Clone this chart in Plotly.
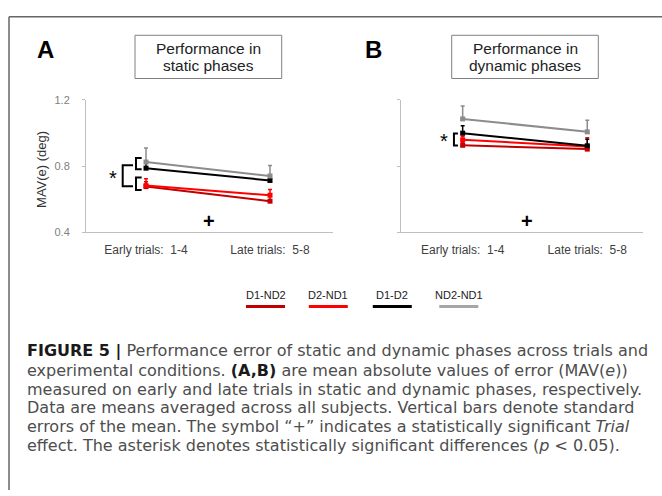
import plotly.graph_objects as go

W, H = 662, 496

# ---------------- data ----------------
categories = ["Early trials:  1-4", "Late trials:  5-8"]
series_names = ["D1-ND2", "D2-ND1", "D1-D2", "ND2-ND1"]
series_colors = ["#c00000", "#ff0000", "#000000", "#8c8c8c"]
legend_colors = ["#c00000", "#ff0000", "#000000", "#a6a6a6"]

# Panel A: static phases (MAV(e), deg)
static_mean = {
    "D1-ND2": [0.676, 0.588],
    "D2-ND1": [0.682, 0.624],
    "D1-D2": [0.787, 0.713],
    "ND2-ND1": [0.824, 0.740],
}
static_se = {
    "D1-ND2": [0.030, 0.030],
    "D2-ND1": [0.042, 0.035],
    "D1-D2": [0.030, 0.030],
    "ND2-ND1": [0.085, 0.063],
}
# Panel B: dynamic phases
dynamic_mean = {
    "D1-ND2": [0.925, 0.902],
    "D2-ND1": [0.958, 0.918],
    "D1-D2": [0.998, 0.922],
    "ND2-ND1": [1.084, 1.006],
}
dynamic_se = {
    "D1-ND2": [0.020, 0.020],
    "D2-ND1": [0.022, 0.052],
    "D1-D2": [0.045, 0.040],
    "ND2-ND1": [0.078, 0.070],
}
y_ticks = [0.4, 0.8, 1.2]
y_ticktext = ["0.4", "0.8", "1.2"]

panel_titles = [["Performance in", "static phases"], ["Performance in", "dynamic phases"]]
caption_lines = [
    "<span style='color:#1a1a1a'><b>FIGURE 5 |</b></span> Performance error of static and dynamic phases across trials and",
    "experimental conditions. <span style='color:#1a1a1a'><b>(A,B)</b></span> are mean absolute values of error (MAV(<i>e</i>))",
    "measured on early and late trials in static and dynamic phases, respectively.",
    "Data are means averaged across all subjects. Vertical bars denote standard",
    "errors of the mean. The symbol \u201c+\u201d indicates a statistically significant <i>Trial</i>",
    "effect. The asterisk denotes statistically significant differences (<i>p</i> &lt; 0.05).",
]


def px(x):
    return x / W


def py(y):
    return 1 - y / H


FONT = "Liberation Sans, Arial, sans-serif"
CAP_FONT = "DejaVu Sans, Liberation Sans, sans-serif"
xpos = [0, 1]

fig = go.Figure()
for (means, ses, xa, ya) in [(static_mean, static_se, "x", "y"), (dynamic_mean, dynamic_se, "x2", "y2")]:
    for name, col in zip(series_names, series_colors):
        fig.add_trace(go.Scatter(
            x=xpos, y=means[name], mode="lines+markers", name=name,
            xaxis=xa, yaxis=ya, showlegend=False,
            line=dict(color=col, width=2),
            marker=dict(symbol="square", size=5, color=col),
            error_y=dict(type="data", symmetric=False, array=ses[name],
                         arrayminus=[0, 0], color=col, thickness=1.5, width=2),
            cliponaxis=False,
        ))

axis_col = "#bfbfbf"
common_x = dict(showgrid=False, zeroline=False, showline=True, linecolor=axis_col, linewidth=1,
                tickmode="array", tickvals=xpos, ticktext=categories,
                ticks="outside", ticklen=6, tickcolor="rgba(0,0,0,0)",
                tickfont=dict(family=FONT, size=12, color="#404040"), fixedrange=True)
common_y = dict(showgrid=False, zeroline=False, showline=True, linecolor=axis_col, linewidth=1,
                range=[0.4, 1.2], tickmode="array", tickvals=y_ticks, ticktext=y_ticktext,
                ticks="outside", ticklen=3, tickcolor=axis_col,
                tickfont=dict(family=FONT, size=11, color="#808080"), fixedrange=True)

fig.update_layout(
    width=W, height=H, margin=dict(l=0, r=0, t=0, b=0),
    paper_bgcolor="white", plot_bgcolor="white", showlegend=False,
    xaxis=dict(common_x, domain=[px(86), px(333)], range=[-0.484, 1.508], anchor="y"),
    yaxis=dict(common_y, domain=[py(232), py(96)], anchor="x", ticklabelstandoff=10),
    xaxis2=dict(common_x, domain=[px(401), px(642.7)], range=[-0.495, 1.445], anchor="y2"),
    yaxis2=dict(common_y, domain=[py(232), py(96)], anchor="x2", showticklabels=False),
)

shapes = []
annotations = []

# outer frame (top and left)
shapes.append(dict(type="line", xref="paper", yref="paper", x0=px(9), x1=1.0, y0=py(11), y1=py(11),
                   line=dict(color="#666666", width=1.5)))
shapes.append(dict(type="line", xref="paper", yref="paper", x0=px(9), x1=px(9), y0=py(11), y1=0,
                   line=dict(color="#666666", width=1.5)))

# panel letters
for letter, x in [("A", 45.5), ("B", 373)]:
    annotations.append(dict(text="<b>%s</b>" % letter, xref="paper", yref="paper", x=px(x), y=py(44.5),
                            showarrow=False, xanchor="center", yanchor="middle",
                            font=dict(family=FONT, size=24, color="black")))

# title boxes
for (x0, x1), lines in zip([(135, 281.7), (451.7, 598.3)], panel_titles):
    shapes.append(dict(type="rect", xref="paper", yref="paper", x0=px(x0), x1=px(x1), y0=py(74.3), y1=py(30),
                       line=dict(color="#808080", width=1), fillcolor="rgba(0,0,0,0)"))
    cx = (x0 + x1) / 2
    for t, yy in zip(lines, [44, 61]):
        annotations.append(dict(text=t, xref="paper", yref="paper", x=px(cx), y=py(yy),
                                showarrow=False, xanchor="center", yanchor="middle", borderpad=0,
                                font=dict(family=FONT, size=15.5, color="#222222")))

# y-axis title
annotations.append(dict(text="MAV(e) (deg)", xref="paper", yref="paper", x=px(42), y=py(168),
                        textangle=-90, showarrow=False, xanchor="center", yanchor="middle",
                        font=dict(family=FONT, size=13, color="#333333")))


def bracket(xa, ya, xv, xarm, y0, y1):
    return dict(type="path", xref=xa, yref=ya,
                path="M %f,%f L %f,%f L %f,%f L %f,%f" % (xarm, y1, xv, y1, xv, y0, xarm, y0),
                line=dict(color="black", width=2))


# significance brackets panel A
shapes.append(bracket("x", "y", -0.188, -0.105, 0.678, 0.804))
shapes.append(bracket("x", "y", -0.081, -0.035, 0.780, 0.849))
shapes.append(bracket("x", "y", -0.081, -0.035, 0.656, 0.731))
# panel B
shapes.append(bracket("x2", "y2", -0.070, -0.038, 0.924, 0.996))

annotations.append(dict(text="*", xref="x", yref="y", x=-0.266, y=0.728, showarrow=False,
                        font=dict(family=FONT, size=20, color="black")))
annotations.append(dict(text="*", xref="x2", yref="y2", x=-0.148, y=0.948, showarrow=False,
                        font=dict(family=FONT, size=20, color="black")))
annotations.append(dict(text="<b>+</b>", xref="x", yref="y", x=0.51, y=0.466, showarrow=False,
                        font=dict(family=FONT, size=20, color="black")))
annotations.append(dict(text="<b>+</b>", xref="x2", yref="y2", x=0.514, y=0.466, showarrow=False,
                        font=dict(family=FONT, size=20, color="black")))

# legend (text above thick line)
leg_centers = [265.5, 328.3, 392.3, 458.8]
for name, col, cx in zip(series_names, legend_colors, leg_centers):
    annotations.append(dict(text=name, xref="paper", yref="paper", x=px(cx), y=py(296),
                            showarrow=False, xanchor="center", yanchor="middle",
                            font=dict(family=FONT, size=11, color="#222222")))
    shapes.append(dict(type="line", xref="paper", yref="paper", x0=px(cx - 19.5), x1=px(cx + 19.5),
                       y0=py(308), y1=py(308), line=dict(color=col, width=3)))

# caption
cap_y = [354, 373.3, 392.5, 411.7, 430.9, 450.1]
for t, yy in zip(caption_lines, cap_y):
    annotations.append(dict(text=t, xref="paper", yref="paper", x=px(26), y=py(yy),
                            showarrow=False, xanchor="left", yanchor="middle", align="left",
                            borderpad=0,
                            font=dict(family=CAP_FONT, size=16, color="#4d4d4d")))

fig.update_layout(shapes=shapes, annotations=annotations)
fig.write_html("out.html")
